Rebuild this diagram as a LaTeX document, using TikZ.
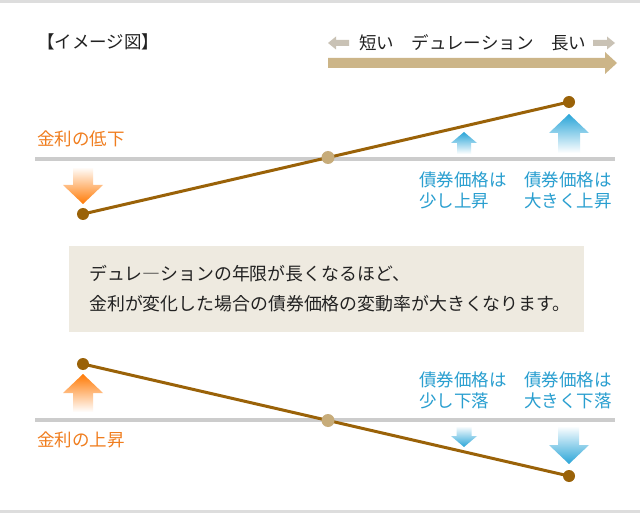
\documentclass[tikz,border=0pt]{standalone}
\usepackage{fontspec}
\setmainfont{Noto Sans CJK JP}
\pgfdeclarelayer{bg}
\pgfdeclarelayer{paper}
\pgfsetlayers{paper,bg,main}
\definecolor{bordergray}{HTML}{DDDDDD}
\definecolor{linegray}{HTML}{CCCCCC}
\definecolor{orng}{HTML}{FF7A05}
\definecolor{orngtxt}{HTML}{F07D1E}
\definecolor{blu}{HTML}{2AA5D8}
\definecolor{blutxt}{HTML}{2A9FD0}
\definecolor{brwn}{HTML}{9A6208}
\definecolor{middot}{HTML}{C7AC7A}
\definecolor{tan}{HTML}{CCB588}
\definecolor{grayarrow}{HTML}{C9C2B5}
\definecolor{boxfill}{HTML}{EEEAE0}
\definecolor{txtblack}{HTML}{222222}
\tikzset{
  txt/.style={inner sep=0pt, anchor=base west, font=\fontsize{17.5}{21}\selectfont},
  blacktxt/.style={txt, text=txtblack},
  msgtxt/.style={blacktxt, font=\fontsize{17.9}{22}\selectfont},
  orangetxt/.style={txt, text=orngtxt},
  bluetxt/.style={txt, text=blutxt},
  enddot/.style={circle, fill=brwn, inner sep=0pt, minimum size=12pt},
  centerdot/.style={circle, fill=middot, inner sep=0pt, minimum size=13pt},
  ratelineA/.style={draw=brwn, line width=3pt},
  baseline/.style={draw=linegray, line width=4pt},
}
\begin{document}
\begin{tikzpicture}[x=1pt,y=-1pt]
\useasboundingbox (0,0) rectangle (640,513);
\begin{pgfonlayer}{paper}
\fill[white] (0,0) rectangle (640,513);
\fill[bordergray] (0,0) rectangle (640,3);
\fill[bordergray] (0,510) rectangle (640,513);
\end{pgfonlayer}

% header
\node[blacktxt] (title) at (37,49) {【イメージ図】};
\fill[grayarrow] (328,43) -- (336,36.5) -- (336,40) -- (349,40) -- (349,46) -- (336,46) -- (336,49.5) -- cycle;
\fill[grayarrow] (615,43) -- (607,36.5) -- (607,40) -- (593,40) -- (593,46) -- (607,46) -- (607,49.5) -- cycle;
\node[blacktxt] (dur) at (359,49.5) {短い　デュレーション　長い};
\fill[tan] (328,58) -- (605,58) -- (605,52) -- (617,63) -- (605,74) -- (605,68) -- (328,68) -- cycle;

% upper chart
\coordinate (gl1) at (35,159);
\coordinate (gr1) at (615,159);
\begin{pgfonlayer}{bg}
\draw[baseline] (gl1) -- (gr1);
\end{pgfonlayer}
\node[enddot] (a1) at (83,214) {};
\node[centerdot] (m1) at (328,157.5) {};
\node[enddot] (b1) at (569,102) {};
\begin{pgfonlayer}{bg}
\draw[ratelineA] (a1.center) -- (b1.center);
\end{pgfonlayer}
\node[orangetxt] (low) at (37,145.5) {金利の低下};
\shade[top color=white, middle color=orng, bottom color=orng]
  (73,167) -- (93,167) -- (93,185) -- (103,185) -- (83,204) -- (63,185) -- (73,185) -- cycle;
\shade[top color=blu, middle color=blu, bottom color=white]
  (464,132) -- (477,143) -- (471,143) -- (471,154) -- (457,154) -- (457,143) -- (451,143) -- cycle;
\shade[top color=blu, middle color=blu, bottom color=white]
  (569,114) -- (589,133) -- (580,133) -- (580,153) -- (558,153) -- (558,133) -- (549,133) -- cycle;
\node[bluetxt] (u1a) at (419,186.5) {債券価格は};
\node[bluetxt] (u1b) at (419,207.5) {少し上昇};
\node[bluetxt] (u2a) at (524,186.5) {債券価格は};
\node[bluetxt] (u2b) at (524,207.5) {大きく上昇};

% message box
\node[fill=boxfill, minimum width=515pt, minimum height=86pt, inner sep=0pt, anchor=north west] (box) at (69,246) {};
\node[msgtxt] (msg1) at (89,280.5) {デュレ―ションの年限が長くなるほど、};
\node[msgtxt] (msg2) at (89,310) {金利が変化した場合の債券価格の変動率が大きくなります。};

% lower chart
\coordinate (gl2) at (35,420);
\coordinate (gr2) at (615,420);
\begin{pgfonlayer}{bg}
\draw[baseline] (gl2) -- (gr2);
\end{pgfonlayer}
\node[enddot] (a2) at (83,364) {};
\node[centerdot] (m2) at (328,420.5) {};
\node[enddot] (b2) at (569,476) {};
\begin{pgfonlayer}{bg}
\draw[ratelineA] (a2.center) -- (b2.center);
\end{pgfonlayer}
\node[orangetxt] (high) at (37,446.5) {金利の上昇};
\shade[top color=orng, middle color=orng, bottom color=white]
  (83,374) -- (103,393) -- (93,393) -- (93,412) -- (73,412) -- (73,393) -- (63,393) -- cycle;
\shade[top color=white, middle color=blu, bottom color=blu]
  (456.5,426) -- (471.5,426) -- (471.5,436) -- (477,436) -- (464,447) -- (451,436) -- (456.5,436) -- cycle;
\shade[top color=white, middle color=blu, bottom color=blu]
  (558,426) -- (579,426) -- (579,445) -- (589,445) -- (569,464) -- (549,445) -- (558,445) -- cycle;
\node[bluetxt] (d1a) at (419,386.5) {債券価格は};
\node[bluetxt] (d1b) at (419,407.5) {少し下落};
\node[bluetxt] (d2a) at (524,386.5) {債券価格は};
\node[bluetxt] (d2b) at (524,407.5) {大きく下落};
\end{tikzpicture}
\end{document}
